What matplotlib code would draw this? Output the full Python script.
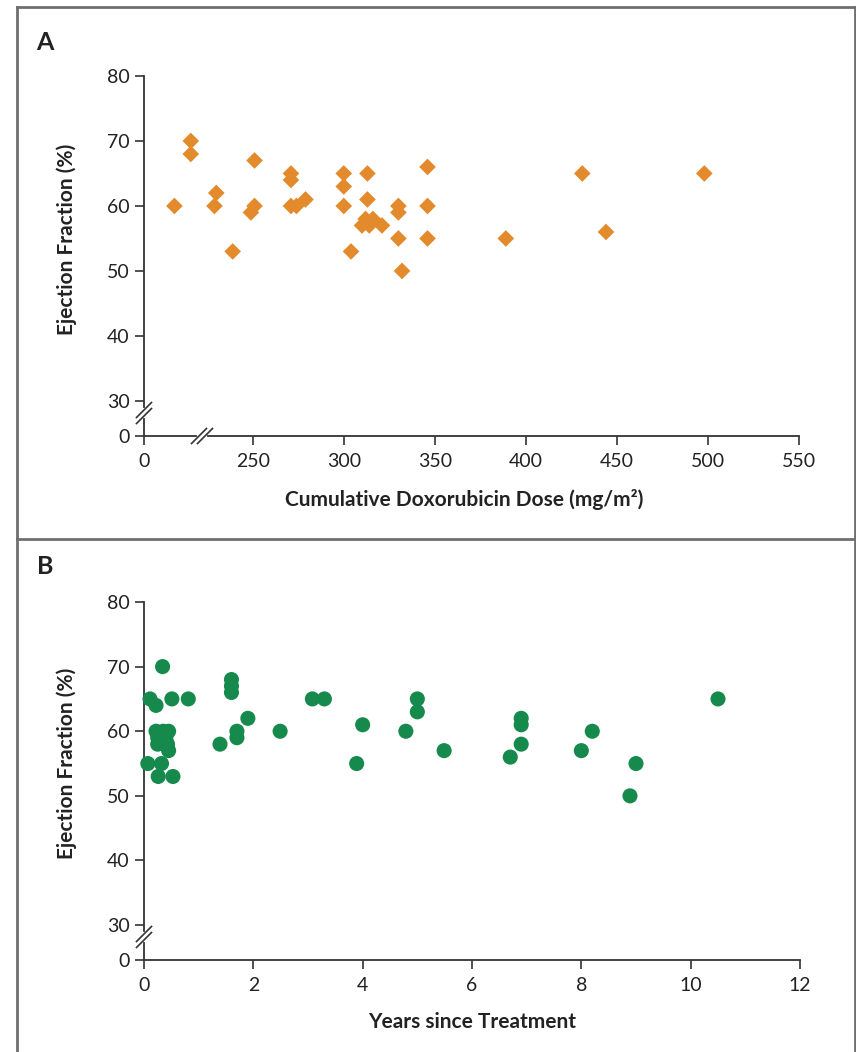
import matplotlib
matplotlib.use("Agg")
import matplotlib.pyplot as plt

# Panel A: cumulative doxorubicin dose (mg/m2) vs ejection fraction (%)
dose = [207, 216, 216, 230, 229, 239, 251, 249, 251, 271, 271, 271, 274, 279,
        300, 300, 300, 304, 313, 313, 310, 312, 314, 316, 321,
        330, 330, 330, 332, 346, 346, 346, 389, 431, 444, 498]
dose_ef = [60, 70, 68, 62, 60, 53, 67, 59, 60, 65, 64, 60, 60, 61,
           65, 63, 60, 53, 65, 61, 57, 58, 57, 58, 57,
           60, 59, 55, 50, 66, 60, 55, 55, 65, 56, 65]

# Panel B: years since treatment vs ejection fraction (%)
years = [0.07, 0.11, 0.22, 0.34, 0.26, 0.32, 0.53, 0.51, 0.81,
         0.22, 0.25, 0.25, 0.35, 0.40, 0.45, 0.43, 0.45,
         1.39, 1.6, 1.6, 1.6, 1.70, 1.70, 1.90, 2.49, 3.08, 3.30,
         3.89, 4.0, 4.79, 5.0, 5.0, 5.49, 6.70, 6.90, 6.90, 6.90,
         8.0, 8.2, 9.0, 8.89, 10.5]
years_ef = [55, 65, 64, 70, 53, 55, 53, 65, 65,
            60, 59, 58, 60, 59, 60, 58, 57,
            58, 68, 67, 66, 60, 59, 62, 60, 65, 65,
            55, 61, 60, 65, 63, 57, 56, 62, 61, 58,
            57, 60, 55, 50, 65]

y_ticks = [30, 40, 50, 60, 70, 80]
y_zero = 24.6          # where the broken y axis shows "0"
dose_zero = 190.3      # where the broken x axis shows "0"
dose_ticks = [250, 300, 350, 400, 450, 500, 550]
year_ticks = [0, 2, 4, 6, 8, 10, 12]

orange = "#e38b2c"
green = "#168a4c"
spine_col = "#333333"
text_col = "#222222"

plt.rcParams["font.family"] = ["Lato", "DejaVu Sans"]

fig = plt.figure(figsize=(8.56, 10.52), dpi=100)
W, H = 856, 1052

axA = fig.add_axes([144 / W, 1 - 436 / H, 655 / W, 360 / H])
axB = fig.add_axes([144 / W, 1 - 960 / H, 656 / W, 358 / H])


def style(ax):
    for s in ("top", "right"):
        ax.spines[s].set_visible(False)
    for s in ("left", "bottom"):
        ax.spines[s].set_color(spine_col)
        ax.spines[s].set_linewidth(1.3)
    ax.tick_params(direction="out", length=6.5, width=1.2, color=spine_col,
                   labelsize=14, labelcolor=text_col, pad=4)
    ax.tick_params(axis="x", pad=6)
    ax.set_ylim(y_zero, 80)
    ax.set_yticks([y_zero] + y_ticks)
    ax.set_yticklabels(["0"] + [str(t) for t in y_ticks])
    ax.set_ylabel("Ejection Fraction (%)", fontsize=15, fontweight="bold",
                  color=text_col)


def break_marks(ax, x, y, along):
    # two short parallel slashes across a spine, position in axes fraction
    pos = ax.get_position()
    sx = 1.0 / (pos.width * W)
    sy = 1.0 / (pos.height * H)
    half, gap = 7.5, 3.0
    kw = dict(transform=ax.transAxes, clip_on=False, zorder=6)
    if along == "y":
        ax.plot([x, x], [y - gap * sy, y + gap * sy], color="white", lw=3,
                transform=ax.transAxes, clip_on=False, zorder=5)
        for off in (-gap, gap):
            ax.plot([x - half * sx, x + half * sx],
                    [y + (off - half) * sy, y + (off + half) * sy],
                    color=spine_col, lw=1.2, **kw)
    else:
        ax.plot([x - gap * sx, x + gap * sx], [y, y], color="white", lw=3,
                transform=ax.transAxes, clip_on=False, zorder=5)
        for off in (-gap, gap):
            ax.plot([x + (off - half) * sx, x + (off + half) * sx],
                    [y - half * sy, y + half * sy],
                    color=spine_col, lw=1.2, **kw)


# Panel A
style(axA)
axA.scatter(dose, dose_ef, marker="D", s=72, color=orange, edgecolors="none",
            zorder=3, clip_on=False)
axA.set_xlim(dose_zero, 550)
axA.set_xticks([dose_zero] + dose_ticks)
axA.set_xticklabels(["0"] + [str(t) for t in dose_ticks])
axA.set_xlabel("Cumulative Doxorubicin Dose (mg/m\u00b2)", fontsize=15,
               fontweight="bold", color=text_col)
axA.xaxis.set_label_coords(0.489, -0.147)
axA.yaxis.set_label_coords(-0.102, 0.547)
break_marks(axA, 0.0, 23 / 360, "y")
break_marks(axA, 58 / 655, 0.0, "x")

# Panel B
style(axB)
axB.scatter(years, years_ef, marker="o", s=118, color=green, edgecolors="none",
            zorder=3, clip_on=False)
axB.set_xlim(0, 12)
axB.set_xticks(year_ticks)
axB.set_xlabel("Years since Treatment", fontsize=15, fontweight="bold",
               color=text_col)
axB.xaxis.set_label_coords(0.50, -0.145)
axB.yaxis.set_label_coords(-0.102, 0.55)
break_marks(axB, 0.0, 23 / 358, "y")

# panel letters and frame
fig.text(45 / W, 1 - 42 / H, "A", fontsize=18, fontweight="bold",
         color=text_col, ha="center", va="center")
fig.text(45 / W, 1 - 566 / H, "B", fontsize=18, fontweight="bold",
         color=text_col, ha="center", va="center")

frame = "#6f6f6f"
fig.add_artist(plt.Line2D([17 / W, 17 / W], [0, 1 - 7 / H], color=frame,
                          lw=2, transform=fig.transFigure))
fig.add_artist(plt.Line2D([17 / W, 1], [1 - 7 / H, 1 - 7 / H], color=frame,
                          lw=2, transform=fig.transFigure))
fig.add_artist(plt.Line2D([17 / W, 1], [1 - 539 / H, 1 - 539 / H],
                          color=frame, lw=2, transform=fig.transFigure))
fig.add_artist(plt.Line2D([1 - 1 / W, 1 - 1 / W], [0, 1 - 7 / H],
                          color=frame, lw=2, transform=fig.transFigure))

fig.savefig("out.png", dpi=100)
